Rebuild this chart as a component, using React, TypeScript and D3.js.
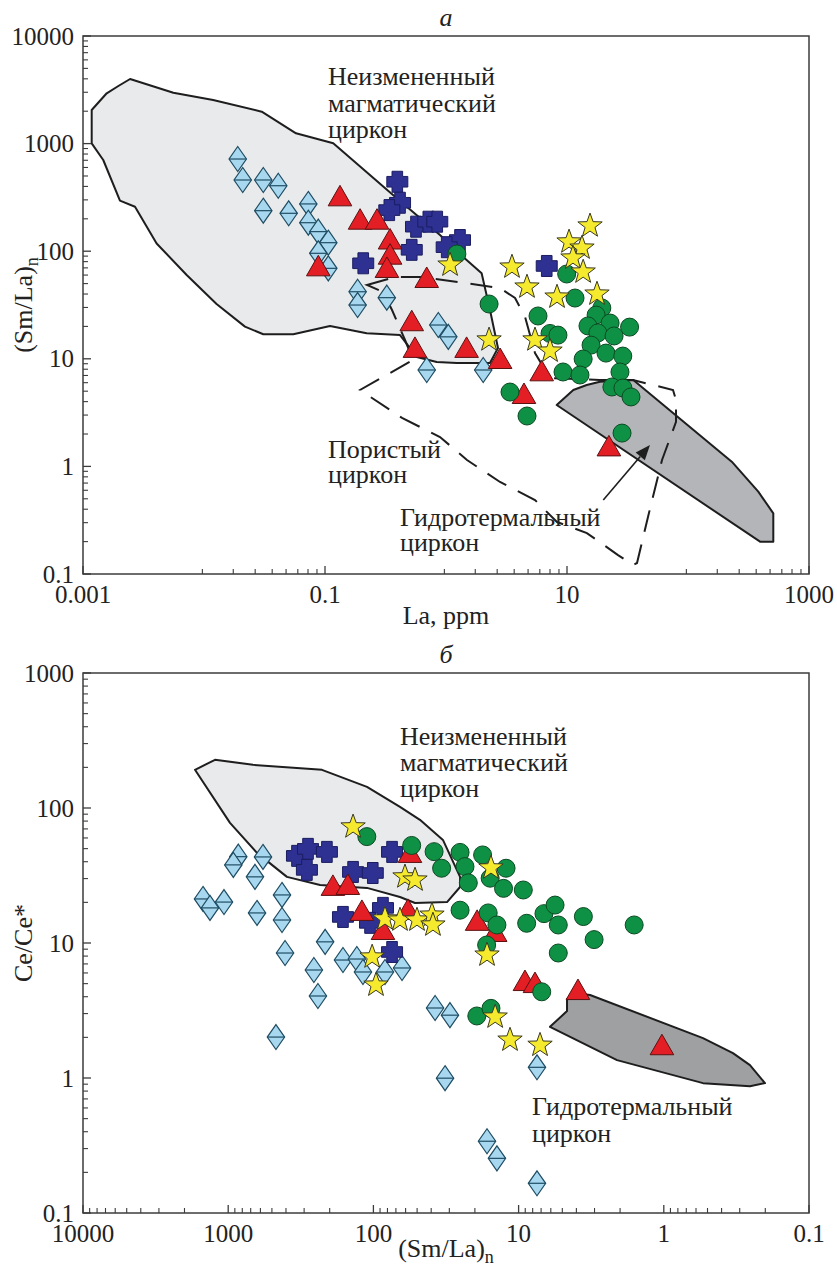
import React from "react";
import * as d3 from "d3";

type P = [number, number];

// ---------- Panel а : La (ppm) vs (Sm/La)n ----------
const aXTicks = [0.001, 0.1, 10, 1000];
const aYTicks = [0.1, 1, 10, 100, 1000, 10000];

const aUnalteredField: P[] = [
  [0.00118, 2053], [0.00157, 2935], [0.00196, 3430], [0.00245, 3985], [0.00558, 2972],
  [0.0119, 2542], [0.03, 1980], [0.0576, 1247], [0.117, 1006], [0.365, 333], [0.892, 141.5],
  [1.38, 88.9], [1.97, 62.3], [2.31, 28.4], [2.69, 12.6], [2.31, 9.14], [1.23, 9.14],
  [0.838, 9.34], [0.573, 10.4], [0.417, 16.6], [0.221, 17.3], [0.11, 20.2], [0.0547, 16.9],
  [0.0309, 16.9], [0.0218, 19.9], [0.0127, 32.3], [0.00719, 60.1], [0.00406, 118],
  [0.00269, 259], [0.00202, 295], [0.00147, 704], [0.00118, 1006],
];
const aPorousField: P[] = [
  [0.2225, 48.5], [0.379, 57.6], [0.61, 57.6], [1.436, 50.6], [2.795, 45.5], [3.72, 36.7],
  [4.5, 24.5], [5.44, 11.3], [7.24, 6.63], [18.7, 6.35], [35.1, 6.35], [75.2, 5.13],
  [79.6, 4.14], [79.6, 2.59], [61, 1.147], [46.7, 0.339], [37.9, 0.1265], [35.1, 0.1213],
  [26.4, 0.15], [14.6, 0.24], [8.27, 0.304], [5.44, 0.487], [2.795, 0.716], [1.491, 1.147],
  [0.892, 1.876], [0.433, 2.82], [0.2446, 4.32], [0.1947, 5.13], [0.534, 9.74],
  [0.4585, 14.95], [0.358, 28.4], [0.3015, 41.8],
];
const aHydroField: P[] = [
  [8.22, 3.72], [11.27, 5.13], [14.55, 5.71], [18.7, 6.13], [35.3, 6.35], [230, 1.106],
  [381, 0.582], [507, 0.3665], [507, 0.1996], [394, 0.1996],
];
const aArrow: P[] = [[19.95, 0.487], [48.5, 1.58]];

const aDiamonds: P[] = [
  [0.019, 719], [0.0209, 459], [0.0309, 459], [0.0411, 406], [0.0309, 238], [0.0501, 225],
  [0.0728, 275], [0.0728, 184], [0.088, 152], [0.1065, 120], [0.088, 95.6], [0.1065, 69.3],
  [0.186, 42], [0.186, 31.6], [0.324, 37], [0.864, 20.6], [1.045, 16], [0.693, 7.87], [2.03, 7.87],
];
const aCrosses: P[] = [
  [0.396, 442], [0.417, 282], [0.34, 241], [0.565, 169], [0.714, 188], [0.847, 188],
  [1.305, 127], [1.013, 109], [0.521, 103], [0.207, 77.2], [6.8, 72.9],
];
const aTriangles: P[] = [
  [0.133, 310], [0.195, 188], [0.269, 188], [0.088, 69.3], [0.345, 123], [0.345, 88.9],
  [0.325, 66.9], [0.693, 54], [0.521, 21.4], [0.554, 12.1], [1.48, 12.1], [2.8, 9.54],
  [6.18, 7.33], [4.41, 4.51], [22.2, 1.47],
];
const aCircles: P[] = [
  [1.23, 94.2], [9.94, 61.4], [11.65, 36.7], [2.27, 32.3], [5.76, 25], [19.4, 29.7],
  [17.4, 25.5], [14.9, 20.2], [22.7, 21.5], [32.9, 19.7], [18, 17.4], [24.5, 16.3],
  [15.8, 13.4], [7.24, 17.2], [8.42, 16.6], [21, 11.3], [28.9, 10.6], [13.6, 9.96],
  [27.4, 7.54], [9.27, 7.54], [12.8, 7.07], [23.5, 5.47], [29, 5.35], [33.8, 4.42],
  [3.38, 4.91], [4.67, 2.94], [28.5, 2.04],
];
const aStars: P[] = [
  [1.08, 74.4], [3.51, 71.3], [15.5, 172], [10.4, 122], [13.3, 107], [11.2, 86.5],
  [13.6, 64.1], [4.67, 46.5], [8.27, 37.5], [17.7, 40], [2.27, 15], [5.44, 15], [7.24, 11.8],
];

// ---------- Panel б : (Sm/La)n vs Ce/Ce* ----------
const bXTicks = [10000, 1000, 100, 10, 1, 0.1];
const bYTicks = [0.1, 1, 10, 100, 1000];

const bUnalteredField: P[] = [
  [1693, 191.8], [1233, 227.6], [675, 208.9], [226, 191.8], [110.7, 143.5], [65.6, 102],
  [47.8, 81.7], [33.2, 58], [25.3, 30.9], [25.3, 26], [31.1, 20.1], [51.7, 19.8],
  [65.6, 21.9], [110.7, 25.6], [233, 26.9], [394, 30.9], [634, 46.5], [972, 77.6],
];
const bHydroField: P[] = [
  [6.08, 2.395], [4.64, 3.13], [4.64, 3.84], [4.09, 4.26], [3.22, 4.12], [0.537, 1.975],
  [0.334, 1.529], [0.255, 1.245], [0.201, 0.916], [0.255, 0.87], [0.537, 0.916], [2.1, 1.356],
];

const bDiamonds: P[] = [
  [852, 43.6], [922, 37.9], [576, 43.4], [654, 30.9], [1491, 21.2], [1335, 18.2],
  [1069, 20.1], [426, 22.7], [633, 16.7], [426, 14.8], [215, 10.2], [406, 8.43],
  [257, 6.31], [241, 4.05], [162, 7.48], [130, 7.61], [118, 6.1], [83.2, 6.1], [63.5, 6.53],
  [469, 2.01], [37.6, 3.3], [29.7, 2.92], [32.1, 0.997], [7.47, 1.2], [16.5, 0.34],
  [14.1, 0.254], [7.47, 0.166],
];
const bCrosses: P[] = [
  [336, 44.2], [282, 49.8], [209, 47.3], [287, 34.8], [138, 33.6], [101, 33], [74.4, 47.3],
  [162, 15.6], [85.9, 18.2], [105.5, 14.1], [74.4, 8.58],
];
const bTriangles: P[] = [
  [190, 25.6], [150, 26], [120, 16.7], [85.9, 12.06], [57.8, 17], [56, 44.9], [19.3, 14.1],
  [14.5, 11.66], [9.04, 5.05], [7.71, 4.88], [3.9, 4.33], [1.03, 1.69],
];
const bCircles: P[] = [
  [111, 61.4], [54.5, 52.8], [38.2, 47.5], [33.9, 35.8], [25.3, 46.9], [23.4, 36.8],
  [22.2, 27.9], [17.7, 44.9], [15.7, 30.2], [12.2, 35.8], [12.7, 25.4], [9.28, 24.7],
  [25.3, 17.5], [16.2, 16.7], [14.1, 13.6], [8.8, 14], [6.69, 16.5], [5.61, 19.1],
  [5.33, 13.6], [3.58, 15.7], [1.6, 13.6], [3.02, 10.6], [16.6, 9.66], [5.33, 8.43],
  [6.93, 4.35], [19.4, 2.88], [15.5, 3.28],
];
const bStars: P[] = [
  [138, 72.5], [60.6, 30.9], [51.7, 29.3], [83.2, 15.1], [65.6, 14.8], [50.1, 14.8],
  [39.5, 16.1], [38.9, 13.6], [102, 7.88], [96, 4.88], [15.5, 36], [16.5, 8.15],
  [14.5, 2.83], [11.46, 1.91], [7.12, 1.75],
];

// ---------- styling ----------
const FONT = "'Liberation Serif', 'Times New Roman', serif";
const C = {
  frame: "#3c3c3c",
  unaltered: "#e9eaec",
  hydroA: "#b4b5b8",
  hydroB: "#9fa0a2",
  diamond: "#a8d8f0",
  diamondStroke: "#1f4d63",
  cross: "#2e3192",
  crossStroke: "#1b1d60",
  tri: "#e31e24",
  triStroke: "#5c1111",
  circle: "#0f9145",
  circleStroke: "#0b4a22",
  star: "#f6ea2f",
  starStroke: "#3a3a20",
};

const starPath = (() => {
  const pts: string[] = [];
  for (let i = 0; i < 10; i++) {
    const r = i % 2 === 0 ? 12.8 : 5.2;
    const a = (Math.PI / 5) * i - Math.PI / 2;
    pts.push(`${(r * Math.cos(a)).toFixed(2)},${(r * Math.sin(a)).toFixed(2)}`);
  }
  return "M" + pts.join("L") + "Z";
})();
const crossPath = (() => {
  const a = 5.3, b = 10.5;
  return `M${-a},${-b}H${a}V${-a}H${b}V${a}H${a}V${b}H${-a}V${a}H${-b}V${-a}H${-a}Z`;
})();
const triPath = "M0,-13L11.8,7.5L-11.8,7.5Z";
const diamondPath = "M0,-12.5L8.7,0L0,12.5L-8.7,0Z";

type Scale = d3.ScaleLogarithmic<number, number>;

function Marks({ x, y, diamonds, crosses, triangles, circles, stars }: {
  x: Scale; y: Scale; diamonds: P[]; crosses: P[]; triangles: P[]; circles: P[]; stars: P[];
}) {
  return (
    <g>
      {diamonds.map((d, i) => (
        <g key={"d" + i} transform={`translate(${x(d[0])},${y(d[1])})`}>
          <path d={diamondPath} fill={C.diamond} stroke={C.diamondStroke} strokeWidth={1.2} />
          <line x1={-8.7} x2={8.7} y1={0} y2={0} stroke={C.diamondStroke} strokeWidth={1.2} />
        </g>
      ))}
      {crosses.map((d, i) => (
        <path key={"c" + i} transform={`translate(${x(d[0])},${y(d[1])})`} d={crossPath}
          fill={C.cross} stroke={C.crossStroke} strokeWidth={1} strokeLinejoin="round" />
      ))}
      {triangles.map((d, i) => (
        <path key={"t" + i} transform={`translate(${x(d[0])},${y(d[1])})`} d={triPath}
          fill={C.tri} stroke={C.triStroke} strokeWidth={1} />
      ))}
      {circles.map((d, i) => (
        <circle key={"o" + i} cx={x(d[0])} cy={y(d[1])} r={9}
          fill={C.circle} stroke={C.circleStroke} strokeWidth={1} />
      ))}
      {stars.map((d, i) => (
        <path key={"s" + i} transform={`translate(${x(d[0])},${y(d[1])})`} d={starPath}
          fill={C.star} stroke={C.starStroke} strokeWidth={1} />
      ))}
    </g>
  );
}

function fieldPath(x: Scale, y: Scale, pts: P[]) {
  const line = d3.line<P>().x((d) => x(d[0])).y((d) => y(d[1]));
  return line(pts) + "Z";
}

function fmt(v: number) {
  return v >= 1 ? String(Math.round(v)) : String(v);
}

function Axes({ x, y, xTicks, yTicks, xMinor, yMinor }: {
  x: Scale; y: Scale; xTicks: number[]; yTicks: number[]; xMinor: number[]; yMinor: number[];
}) {
  const [x0, x1] = x.range();
  const left = Math.min(x0, x1), right = Math.max(x0, x1);
  const [yb, yt] = y.range();
  return (
    <g>
      <rect x={left} y={yt} width={right - left} height={yb - yt} fill="none" stroke={C.frame} strokeWidth={1.5} />
      {yTicks.map((v) => (
        <g key={"yt" + v}>
          <line x1={left} x2={left + 8} y1={y(v)} y2={y(v)} stroke={C.frame} strokeWidth={1.3} />
          <text x={left - 9} y={y(v) + 8.5} textAnchor="end" fontSize={25} fontFamily={FONT} fill="#222">{fmt(v)}</text>
        </g>
      ))}
      {yMinor.map((py, i) => (
        <line key={"ym" + i} x1={left} x2={left + 5} y1={py} y2={py} stroke={C.frame} strokeWidth={1.1} />
      ))}
      {xTicks.map((v) => (
        <g key={"xt" + v}>
          <line x1={x(v)} x2={x(v)} y1={yb} y2={yb - 8} stroke={C.frame} strokeWidth={1.3} />
          <text x={x(v)} y={yb + 29} textAnchor="middle" fontSize={25} fontFamily={FONT} fill="#222">{fmt(v)}</text>
        </g>
      ))}
      {xMinor.map((px, i) => (
        <line key={"xm" + i} x1={px} x2={px} y1={yb} y2={yb - 5} stroke={C.frame} strokeWidth={1.1} />
      ))}
    </g>
  );
}

function stdMinor(scale: Scale, kLo: number, kHi: number) {
  const out: number[] = [];
  for (let k = kLo; k <= kHi; k++) {
    for (let m = 2; m <= 9; m++) out.push(scale(m * Math.pow(10, k)));
  }
  return out;
}

function Label({ x, y, lines, step = 26.5 }: { x: number; y: number; lines: string[]; step?: number }) {
  return (
    <text x={x} y={y} fontSize={26} fontFamily={FONT} fill="#222">
      {lines.map((l, i) => (
        <tspan key={i} x={x} y={y + i * step}>{l}</tspan>
      ))}
    </text>
  );
}

export default function App() {
  const xA = d3.scaleLog().domain([0.001, 1000]).range([83, 809]);
  const yA = d3.scaleLog().domain([0.1, 10000]).range([574, 36]);
  const xB = d3.scaleLog().domain([10000, 0.1]).range([83, 809]);
  const yB = d3.scaleLog().domain([0.1, 1000]).range([1213, 673]);

  // panel а: the original draws 8 minor ticks left of each labelled tick (except the first)
  const aXMinor: number[] = [];
  const span = (xA(10) - xA(1)) * 1.45;
  aXTicks.slice(1).forEach((t) => {
    for (let m = 2; m <= 9; m++) aXMinor.push(xA(t) - (1 - Math.log10(m)) * span);
  });

  const [ax0, ay0] = [xA(aArrow[0][0]), yA(aArrow[0][1])];
  const [ax1, ay1] = [xA(aArrow[1][0]), yA(aArrow[1][1])];
  const ang = Math.atan2(ay1 - ay0, ax1 - ax0);
  const hl = 15, hw = 6;
  const bx = ax1 - hl * Math.cos(ang), by = ay1 - hl * Math.sin(ang);
  const head = `M${ax1},${ay1}L${bx + hw * Math.sin(ang)},${by - hw * Math.cos(ang)}L${bx - hw * Math.sin(ang)},${by + hw * Math.cos(ang)}Z`;

  return (
    <svg width={837} height={1268} style={{ position: "absolute", left: 0, top: 0, background: "#fff" }}>
      <rect x={0} y={0} width={837} height={1268} fill="#fff" />
      {/* ---------- Panel а ---------- */}
      <text x={446} y={26} fontSize={26} fontStyle="italic" fontFamily={FONT} textAnchor="middle" fill="#222">а</text>
      <path d={fieldPath(xA, yA, aUnalteredField)} fill={C.unaltered} stroke="#1e1e1e" strokeWidth={2} strokeLinejoin="round" />
      <path d={fieldPath(xA, yA, aHydroField)} fill={C.hydroA} stroke="#1e1e1e" strokeWidth={2} strokeLinejoin="round" />
      <path d={fieldPath(xA, yA, aPorousField)} fill="none" stroke="#1e1e1e" strokeWidth={2} strokeDasharray="22 13" />
      <Marks x={xA} y={yA} diamonds={aDiamonds} crosses={aCrosses} triangles={aTriangles} circles={aCircles} stars={aStars} />
      <line x1={ax0} y1={ay0} x2={bx} y2={by} stroke="#1e1e1e" strokeWidth={1.6} />
      <path d={head} fill="#1e1e1e" />
      <Label x={328} y={85} lines={["Неизмененный", "магматический", "циркон"]} />
      <Label x={328} y={458} lines={["Пористый", "циркон"]} step={25} />
      <Label x={400} y={526} lines={["Гидротермальный", "циркон"]} step={25} />
      <Axes x={xA} y={yA} xTicks={aXTicks} yTicks={aYTicks} xMinor={aXMinor} yMinor={stdMinor(yA, -1, 3)} />
      <text x={446} y={624} textAnchor="middle" fontSize={26} fontFamily={FONT} fill="#222">La, ppm</text>
      <text transform="translate(32,305) rotate(-90)" textAnchor="middle" fontSize={26} fontFamily={FONT} fill="#222">
        (Sm/La)<tspan fontSize={18} dy={6}>n</tspan>
      </text>

      {/* ---------- Panel б ---------- */}
      <text x={446} y={663} fontSize={26} fontStyle="italic" fontFamily={FONT} textAnchor="middle" fill="#222">б</text>
      <path d={fieldPath(xB, yB, bUnalteredField)} fill={C.unaltered} stroke="#1e1e1e" strokeWidth={2} strokeLinejoin="round" />
      <path d={fieldPath(xB, yB, bHydroField)} fill={C.hydroB} stroke="#1e1e1e" strokeWidth={2} strokeLinejoin="round" />
      <Marks x={xB} y={yB} diamonds={bDiamonds} crosses={bCrosses} triangles={bTriangles} circles={bCircles} stars={bStars} />
      <Label x={400} y={745} lines={["Неизмененный", "магматический", "циркон"]} step={26} />
      <Label x={532} y={1115} lines={["Гидротермальный", "циркон"]} step={26.5} />
      <Axes x={xB} y={yB} xTicks={bXTicks} yTicks={bYTicks} xMinor={stdMinor(xB, -1, 3)} yMinor={stdMinor(yB, -1, 2)} />
      <text x={446} y={1257} textAnchor="middle" fontSize={26} fontFamily={FONT} fill="#222">
        (Sm/La)<tspan fontSize={18} dy={6}>n</tspan>
      </text>
      <text transform="translate(32,943) rotate(-90)" textAnchor="middle" fontSize={26} fontFamily={FONT} fill="#222">Ce/Ce*</text>
    </svg>
  );
}
